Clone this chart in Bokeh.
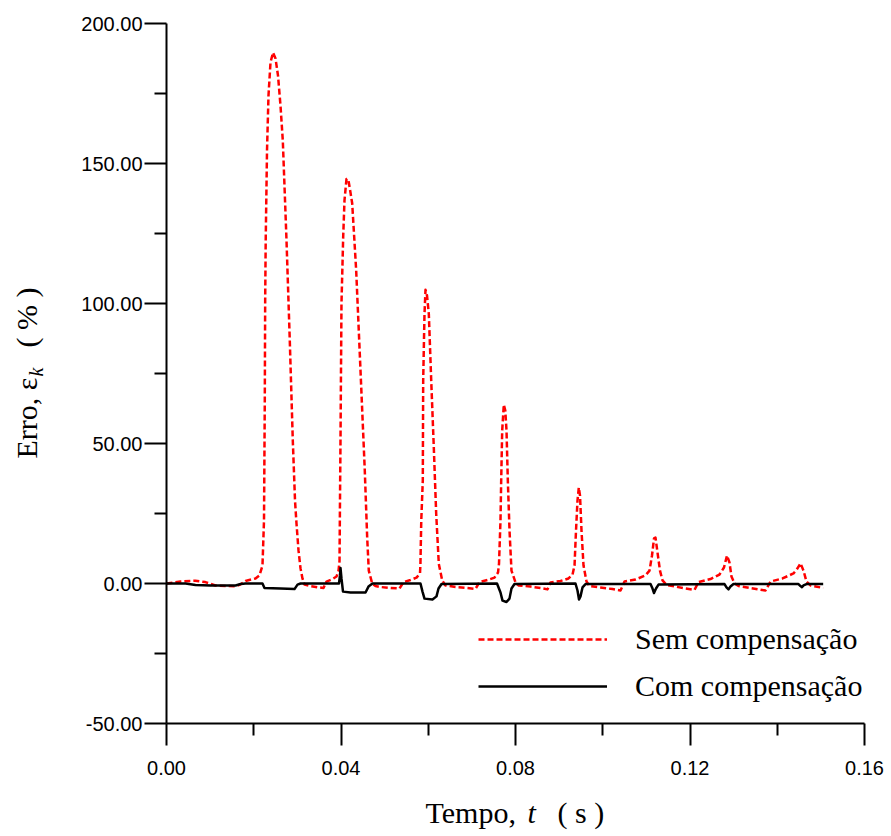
import math
from bokeh.plotting import figure
from bokeh.layouts import row, column
from bokeh.models import Range1d, FixedTicker, NumeralTickFormatter, Label, Legend, LegendItem
from bokeh.embed import file_html
from bokeh.resources import INLINE

# --- data: "Sem compensação" (red dashed) ---
sem_t = [0.0, 0.0032, 0.0066, 0.0089, 0.0112, 0.0158, 0.0170, 0.0181, 0.0204, 0.0213,
         0.0220, 0.02235, 0.02253, 0.02262, 0.02274, 0.02304, 0.02338, 0.02384, 0.02441, 0.02499,
         0.02556, 0.02613, 0.02666, 0.02751, 0.02826, 0.02895, 0.02946, 0.02980, 0.03026, 0.03072,
         0.03117, 0.03163, 0.03301, 0.03484, 0.03599, 0.03668, 0.03805, 0.03897, 0.03943, 0.03966,
         0.03977, 0.03989, 0.04011, 0.04050, 0.04080, 0.04126, 0.04172, 0.04218, 0.04257, 0.04348,
         0.04447, 0.04545, 0.04600, 0.04637, 0.04715, 0.04791, 0.04906, 0.05135, 0.05341, 0.05433,
         0.05593, 0.05731, 0.05811, 0.05821, 0.05840, 0.05875, 0.05884, 0.05914, 0.05937, 0.05971,
         0.06013, 0.06068, 0.06127, 0.06182, 0.06242, 0.06320, 0.06395, 0.06625, 0.06877, 0.07083,
         0.07175, 0.07358, 0.07519, 0.07599, 0.07622, 0.07656, 0.07672, 0.07695, 0.07732, 0.07766,
         0.07794, 0.07824, 0.07863, 0.07908, 0.08000, 0.08069, 0.08344, 0.08573, 0.08734, 0.08802,
         0.09032, 0.09215, 0.09307, 0.09353, 0.09387, 0.09421, 0.09451, 0.09479, 0.09513, 0.09559,
         0.09628, 0.09696, 0.09948, 0.10223, 0.10407, 0.10499, 0.10750, 0.10980, 0.11072, 0.11129,
         0.11175, 0.11209, 0.11255, 0.11312, 0.11370, 0.11461, 0.11668, 0.11897, 0.12103, 0.12195,
         0.12470, 0.12676, 0.12779, 0.12848, 0.12905, 0.12951, 0.13020, 0.13112, 0.13387, 0.13731,
         0.13845, 0.14120, 0.14372, 0.14464, 0.14533, 0.14602, 0.14670, 0.14762, 0.15053]
sem_v = [0.0, 0.7, 1.0, 0.5, -0.7, -1.0, -0.3, 0.9, 1.8, 2.9,
         6.4, 22.5, 65.4, 101.1, 122.5, 154.6, 174.3, 186.1, 189.6, 187.5,
         181.4, 170.7, 158.2, 122.5, 86.8, 51.1, 29.6, 21.4, 11.8, 5.4,
         1.8, -0.4, -0.9, -1.4, -1.6, 0.7, 1.6, 2.5, 4.6, 8.0,
         29.6, 52.3, 100.0, 123.7, 136.8, 144.5, 143.9, 139.6, 135.7, 111.8,
         76.1, 40.4, 16.5, 4.6, 0.0, -0.9, -1.25, -1.6, -1.8, 0.5,
         1.25, 2.1, 3.6, 7.0, 22.5, 36.8, 72.5, 96.3, 104.9, 102.9,
         96.3, 72.5, 48.7, 24.9, 7.0, 1.1, -0.7, -1.25, -1.6, -1.9,
         0.5, 1.25, 2.1, 3.9, 7.1, 22.5, 36.8, 54.6, 63.9, 61.8,
         54.6, 36.8, 18.9, 4.6, 0.4, -0.7, -1.1, -1.6, -2.1, 0.4,
         0.9, 1.8, 3.2, 6.4, 18.9, 29.6, 34.3, 31.4, 18.9, 6.4,
         0.7, -0.9, -1.4, -2.0, -2.5, 0.7, 1.4, 2.9, 4.6, 10.0,
         16.1, 16.4, 11.1, 4.6, 1.1, -0.5, -1.1, -1.8, -2.3, 0.5,
         1.6, 3.2, 5.7, 10.0, 7.5, 2.5, 0.0, -0.9, -1.6, -2.5,
         0.7, 1.8, 3.6, 5.4, 7.25, 4.6, 0.7, -0.7, -1.6]

# --- data: "Com compensação" (black solid) ---
com_t = [0.0, 0.00436, 0.00665, 0.01009, 0.01582, 0.01700, 0.01811, 0.02200, 0.02246, 0.02613,
         0.02934, 0.03003, 0.03072, 0.03954, 0.03977, 0.03989, 0.04011, 0.04046, 0.04218, 0.04562,
         0.04630, 0.04722, 0.05822, 0.05868, 0.05914, 0.06097, 0.06189, 0.06235, 0.06304, 0.07576,
         0.07656, 0.07702, 0.07794, 0.07862, 0.07908, 0.07977, 0.09375, 0.09421, 0.09456, 0.09490,
         0.09536, 0.09605, 0.11095, 0.11141, 0.11175, 0.11221, 0.11278, 0.12791, 0.12837, 0.12883,
         0.12928, 0.12997, 0.14487, 0.14533, 0.14567, 0.14602, 0.14670, 0.15053]
com_v = [0.0, 0.0, -0.5, -0.7, -0.7, -0.2, 0.0, 0.0, -1.6, -1.8,
         -2.0, -0.4, 0.0, 0.0, 2.9, 5.5, 1.8, -2.9, -3.2, -3.2,
         -1.1, 0.0, 0.0, -2.9, -5.4, -5.7, -4.6, -1.8, -0.2, 0.0,
         -3.2, -6.1, -6.6, -5.4, -1.8, -0.2, 0.0, -2.5, -5.7, -4.6,
         -1.4, -0.2, -0.2, -1.8, -3.4, -1.8, -0.4, -0.2, -1.4, -2.1,
         -1.1, -0.2, -0.2, -0.9, -1.3, -0.7, -0.2, -0.2]

x_ticks = [0.0, 0.04, 0.08, 0.12, 0.16]
x_minor = [0.02, 0.06, 0.10, 0.14]
y_ticks = [-50, 0, 50, 100, 150, 200]
y_minor = [-25, 25, 75, 125, 175]

serif = "Liberation Serif"
sans = "Liberation Sans"

YW = 50      # width of the y-title strip
MH = 785     # main figure height
XH = 48      # height of the x-title strip

p = figure(width=836, height=MH, output_backend="svg", toolbar_location=None,
           x_range=Range1d(0, 0.16), y_range=Range1d(-50, 200), frame_align=False,
           min_border_left=116, min_border_right=22, min_border_top=23, min_border_bottom=62)
p.outline_line_color = None
p.xgrid.grid_line_color = None
p.ygrid.grid_line_color = None

p.xaxis.ticker = FixedTicker(ticks=x_ticks, minor_ticks=x_minor)
p.yaxis.ticker = FixedTicker(ticks=y_ticks, minor_ticks=y_minor)
p.xaxis.formatter = NumeralTickFormatter(format="0.00")
p.yaxis.formatter = NumeralTickFormatter(format="0.00")
for ax in (p.xaxis, p.yaxis):
    ax.axis_line_width = 2
    ax.axis_line_color = "black"
    ax.major_tick_line_width = 2
    ax.minor_tick_line_width = 2
    ax.major_tick_line_color = "black"
    ax.minor_tick_line_color = "black"
    ax.major_tick_in = 0
    ax.major_tick_out = 22
    ax.minor_tick_in = 0
    ax.minor_tick_out = 12
    ax.major_label_text_font = sans
    ax.major_label_text_font_size = "20px"
    ax.major_label_text_color = "black"
p.xaxis.major_label_standoff = 15
p.yaxis.major_label_standoff = 2

r_sem = p.line(sem_t, sem_v, line_color="#ff0000", line_width=2.5, line_dash="6 3", line_join="round")
r_com = p.line(com_t, com_v, line_color="black", line_width=2.5, line_join="round")

legend = Legend(items=[LegendItem(label="Sem compensação", renderers=[r_sem]),
                       LegendItem(label="Com compensação", renderers=[r_com])],
                location=(312, 20), orientation="vertical",
                glyph_width=129, glyph_height=30, label_height=30, spacing=13,
                label_standoff=28, padding=0, margin=0,
                label_text_font=serif, label_text_font_size="30px", label_text_color="black",
                border_line_color=None, background_fill_alpha=0)
p.add_layout(legend, "center")


def strip(w, h):
    f = figure(width=w, height=h, output_backend="svg", toolbar_location=None,
               x_axis_type=None, y_axis_type=None, x_range=Range1d(0, 1), y_range=Range1d(0, 1),
               min_border=0, frame_align=False)
    f.outline_line_color = None
    f.xgrid.visible = False
    f.ygrid.visible = False
    return f


def lab(f, x, y, text, size="30px", style="normal", angle=0.0):
    f.add_layout(Label(x=x, y=y, x_units="screen", y_units="screen", text=text, angle=angle,
                       text_font=serif, text_font_style=style, text_font_size=size,
                       text_color="black", text_baseline="alphabetic", text_align="left"))


# x-axis title strip (below main figure)
xf = strip(836, XH)
lab(xf, 375, 21, "Tempo,")
lab(xf, 477, 21, "t", style="italic")
lab(xf, 507, 21, "( s )")

# y-axis title strip (left of main figure), rotated text
yf = strip(YW, MH + XH)
ang = math.pi / 2
lab(yf, 26, 375, "Erro, ε", angle=ang)
lab(yf, 35, 457, "k", size="20px", style="italic", angle=ang)
lab(yf, 26, 486, "( % )", angle=ang)

layout = row(yf, column(p, xf, spacing=0), spacing=0)

open("out.html", "w").write(file_html(layout, INLINE))
